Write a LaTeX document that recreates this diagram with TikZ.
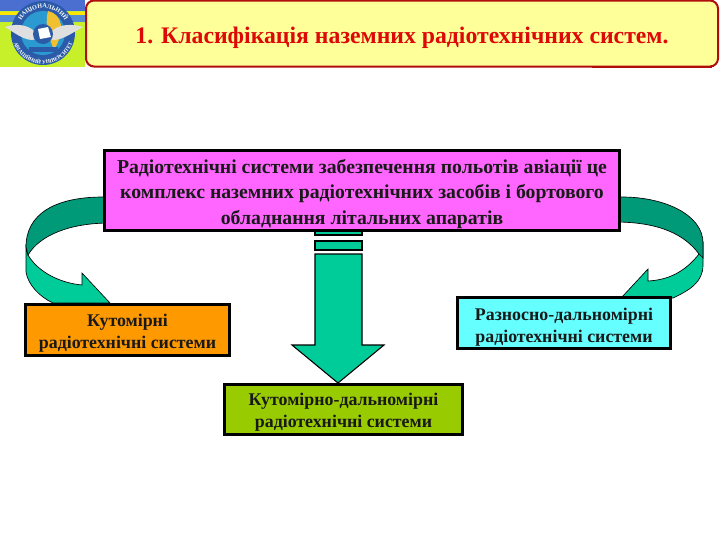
\documentclass[tikz,border=0pt]{standalone}
\usepackage{fontspec}
\setmainfont{Liberation Serif}
\usetikzlibrary{decorations.text}
\definecolor{titlefill}{HTML}{FFFF99}
\definecolor{titleline}{HTML}{B00D0D}
\definecolor{titletext}{HTML}{DD0808}
\definecolor{pinkbox}{HTML}{FF66FF}
\definecolor{orangebox}{HTML}{FF9900}
\definecolor{cyanbox}{HTML}{66FFFF}
\definecolor{greenbox}{HTML}{99CC00}
\definecolor{arrowlight}{HTML}{00CC99}
\definecolor{arrowdark}{HTML}{009A78}
\definecolor{logoblue}{HTML}{4A6FD0}
\definecolor{logoyellow}{HTML}{C8F02A}
\definecolor{logoglobe}{HTML}{2A9AD0}
\definecolor{logoring}{HTML}{2A5AA8}
\definecolor{logogold}{HTML}{F0C030}
\tikzset{
  x=0.75pt,y=-0.75pt,
  infobox/.style={draw=black,line width=2.2pt,inner sep=0pt},
  boxtext/.style={inner sep=0pt,align=center,text=black!90},
  bigtext/.style={boxtext,font=\bfseries\fontsize{14.8pt}{19.2pt}\selectfont},
  smalltext/.style={boxtext,font=\bfseries\fontsize{13.4pt}{16.5pt}\selectfont},
  band/.style={draw=black,line width=0.5pt,fill=arrowlight},
  bandd/.style={draw=black,line width=0.5pt,fill=arrowdark},
  shaft/.style={draw=black,line width=0.8pt,fill=arrowlight},
}
\begin{document}
\begin{tikzpicture}
\useasboundingbox (0,0) rectangle (720,540);
\fill[white] (0,0) rectangle (720,540);
% logo
\fill[logoyellow] (0,0) rectangle (85,67);
\fill[logoblue] (0,0) rectangle (85,11);
\fill[yellow!90!orange] (0,12) rectangle (85,15);
\fill[cyan!50!blue!70] (0,15) rectangle (85,22);
\fill[logoring] (43,33) circle[radius=32];
\fill[logoglobe] (43,33) circle[radius=22];
\fill[logogold] (48,11) .. controls (62,14) and (66,30) .. (54,50) .. controls (50,40) and (44,26) .. (48,11);
\fill[white!75!gray] (5,27) .. controls (20,22) and (32,26) .. (40,37) .. controls (30,45) and (18,35) .. (5,27);
\fill[white!75!gray] (83,27) .. controls (66,22) and (54,26) .. (46,37) .. controls (56,45) and (68,35) .. (83,27);
\fill[logoring] (43,34) circle[radius=10];
\fill[white] (38,29) -- (48,27) -- (51,37) -- (40,39) -- cycle;
\fill[logoring] (29,47) rectangle (58,52);
\path[decorate,decoration={text along path,text align=center,text={|\bfseries\fontsize{4.6pt}{5pt}\selectfont\color{white}|НАЦІОНАЛЬНИЙ}}]
  (19.5,24.5) arc[start angle=200,end angle=340,radius=25];
\path[decorate,decoration={text along path,text align=center,text={|\bfseries\fontsize{4pt}{5pt}\selectfont\color{white}|АВІАЦІЙНИЙ УНІВЕРСИТЕТ}}]
  (13.9,43.6) arc[start angle=160,end angle=20,radius=31];
% title
\node[draw=titleline,line width=1.5pt,fill=titlefill,rounded corners=6pt,minimum width=474pt,minimum height=49.5pt,inner sep=0pt] (titlebox) at (402,33.5) {};
\node[inner sep=0pt,text=titletext,font=\bfseries\fontsize{17.8pt}{20pt}\selectfont] (titletext) at ([yshift=-3pt]titlebox.center) {1. Класифікація наземних радіотехнічних систем.};
\coordinate (tl) at (592,67);
\coordinate (tr) at (712,67);
\draw[titleline,line width=2pt] (tl) -- (tr);
% left curved arrow
\path[band] (26,247) -- (26,272) .. controls (28,285) and (40,297) .. (53,303) -- (110,303) -- (82,273) -- (82,285) .. controls (60,283) and (38,272) .. (28,255) -- cycle;
\path[bandd] (110,197) -- (103,197) .. controls (55,197) and (26,214) .. (26,247) -- (28,255) .. controls (40,235) and (70,223) .. (110,223) -- cycle;
% right curved arrow
\path[band] (699,254) .. controls (685,272) and (668,280) .. (648,281) -- (648,269) -- (622,297) -- (673,298) .. controls (690,290) and (703,282) .. (703,265) -- (703,243) -- cycle;
\path[bandd] (615,197) -- (622,197) .. controls (665,197) and (703,215) .. (703,243) -- (703,258) -- (699,254) .. controls (685,235) and (660,222) .. (615,222) -- cycle;
% centre arrow
\path[shaft] (315,225) rectangle (362,235);
\path[shaft] (315,241) rectangle (362,250);
\path[shaft] (315,254) -- (362,254) -- (362,345) -- (384,345) -- (338,383) -- (292,345) -- (315,345) -- cycle;
% boxes
\node[infobox,fill=pinkbox,minimum width=386pt,minimum height=59.5pt] (main) at (362,190.5) {};
\node[bigtext] (maintext) at ([yshift=-2.6pt]main.center) {Радіотехнічні системи забезпечення польотів авіації це\\комплекс наземних радіотехнічних засобів і бортового\\обладнання літальних апаратів\hspace{1em}};
\node[infobox,fill=orangebox,minimum width=153pt,minimum height=38pt] (angle) at (127.5,330) {};
\node[smalltext] (angletext) at ([yshift=-2.25pt]angle.center) {Кутомірні\\радіотехнічні системи};
\node[infobox,fill=cyanbox,minimum width=160pt,minimum height=38pt] (range) at (564,323) {};
\node[smalltext] (rangetext) at ([yshift=-3pt]range.center) {Разносно-дальномірні\\радіотехнічні системи};
\node[infobox,fill=greenbox,minimum width=179pt,minimum height=37pt] (anglerange) at (343.5,409.5) {};
\node[smalltext] (anglerangetext) at ([yshift=-2.25pt]anglerange.center) {Кутомірно-дальномірні\\радіотехнічні системи};
\end{tikzpicture}
\end{document}
